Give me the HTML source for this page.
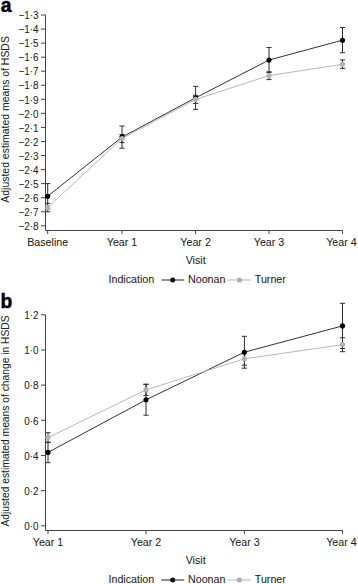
<!DOCTYPE html>
<html><head><meta charset="utf-8"><style>
html,body{margin:0;padding:0;background:#fff;}
body{width:358px;height:584px;overflow:hidden;}
svg{display:block;font-family:"Liberation Sans",sans-serif;fill:#222;}
text{stroke:#222;stroke-width:0.05px;}
</style></head><body>
<svg width="358" height="584" viewBox="0 0 358 584">
<rect width="358" height="584" fill="#fff"/>
<text x="0.7" y="11.7" font-size="19.3" font-weight="bold" style="fill:#000;stroke:#000;stroke-width:0.45px">a</text>
<path d="M45.5 15V230.5H342.5" fill="none" stroke="#444" stroke-width="1"/>
<line x1="41" y1="15" x2="45.5" y2="15" stroke="#444" stroke-width="1"/>
<text font-size="10.7" text-anchor="end" transform="translate(38.5 19.2) scale(0.925 1)">−1·3</text>
<line x1="41" y1="29.05" x2="45.5" y2="29.05" stroke="#444" stroke-width="1"/>
<text font-size="10.7" text-anchor="end" transform="translate(38.5 33.25) scale(0.925 1)">−1·4</text>
<line x1="41" y1="43.11" x2="45.5" y2="43.11" stroke="#444" stroke-width="1"/>
<text font-size="10.7" text-anchor="end" transform="translate(38.5 47.31) scale(0.925 1)">−1·5</text>
<line x1="41" y1="57.16" x2="45.5" y2="57.16" stroke="#444" stroke-width="1"/>
<text font-size="10.7" text-anchor="end" transform="translate(38.5 61.36) scale(0.925 1)">−1·6</text>
<line x1="41" y1="71.21" x2="45.5" y2="71.21" stroke="#444" stroke-width="1"/>
<text font-size="10.7" text-anchor="end" transform="translate(38.5 75.41) scale(0.925 1)">−1·7</text>
<line x1="41" y1="85.27" x2="45.5" y2="85.27" stroke="#444" stroke-width="1"/>
<text font-size="10.7" text-anchor="end" transform="translate(38.5 89.47) scale(0.925 1)">−1·8</text>
<line x1="41" y1="99.32" x2="45.5" y2="99.32" stroke="#444" stroke-width="1"/>
<text font-size="10.7" text-anchor="end" transform="translate(38.5 103.52) scale(0.925 1)">−1·9</text>
<line x1="41" y1="113.37" x2="45.5" y2="113.37" stroke="#444" stroke-width="1"/>
<text font-size="10.7" text-anchor="end" transform="translate(38.5 117.57) scale(0.925 1)">−2·0</text>
<line x1="41" y1="127.42" x2="45.5" y2="127.42" stroke="#444" stroke-width="1"/>
<text font-size="10.7" text-anchor="end" transform="translate(38.5 131.62) scale(0.925 1)">−2·1</text>
<line x1="41" y1="141.48" x2="45.5" y2="141.48" stroke="#444" stroke-width="1"/>
<text font-size="10.7" text-anchor="end" transform="translate(38.5 145.68) scale(0.925 1)">−2·2</text>
<line x1="41" y1="155.53" x2="45.5" y2="155.53" stroke="#444" stroke-width="1"/>
<text font-size="10.7" text-anchor="end" transform="translate(38.5 159.73) scale(0.925 1)">−2·3</text>
<line x1="41" y1="169.58" x2="45.5" y2="169.58" stroke="#444" stroke-width="1"/>
<text font-size="10.7" text-anchor="end" transform="translate(38.5 173.78) scale(0.925 1)">−2·4</text>
<line x1="41" y1="183.64" x2="45.5" y2="183.64" stroke="#444" stroke-width="1"/>
<text font-size="10.7" text-anchor="end" transform="translate(38.5 187.84) scale(0.925 1)">−2·5</text>
<line x1="41" y1="197.69" x2="45.5" y2="197.69" stroke="#444" stroke-width="1"/>
<text font-size="10.7" text-anchor="end" transform="translate(38.5 201.89) scale(0.925 1)">−2·6</text>
<line x1="41" y1="211.74" x2="45.5" y2="211.74" stroke="#444" stroke-width="1"/>
<text font-size="10.7" text-anchor="end" transform="translate(38.5 215.94) scale(0.925 1)">−2·7</text>
<line x1="41" y1="225.8" x2="45.5" y2="225.8" stroke="#444" stroke-width="1"/>
<text font-size="10.7" text-anchor="end" transform="translate(38.5 230) scale(0.925 1)">−2·8</text>
<line x1="47.7" y1="230.5" x2="47.7" y2="234" stroke="#444" stroke-width="1"/>
<text x="47.7" y="245.8" font-size="10.7" text-anchor="middle" >Baseline</text>
<line x1="122" y1="230.5" x2="122" y2="234" stroke="#444" stroke-width="1"/>
<text x="122" y="245.8" font-size="10.7" text-anchor="middle" >Year 1</text>
<line x1="195.6" y1="230.5" x2="195.6" y2="234" stroke="#444" stroke-width="1"/>
<text x="195.6" y="245.8" font-size="10.7" text-anchor="middle" >Year 2</text>
<line x1="269" y1="230.5" x2="269" y2="234" stroke="#444" stroke-width="1"/>
<text x="269" y="245.8" font-size="10.7" text-anchor="middle" >Year 3</text>
<line x1="342.5" y1="230.5" x2="342.5" y2="234" stroke="#444" stroke-width="1"/>
<text x="341.4" y="245.8" font-size="10.7" text-anchor="middle" >Year 4</text>
<text x="195.7" y="264" font-size="10.7" text-anchor="middle" >Visit</text>
<text x="0" y="0" font-size="10.45" text-anchor="middle" transform="translate(8.9 119.4) rotate(-90)">Adjusted estimated means of HSDS</text>
<polyline points="47.7,196.2 122,137.1 195.6,97.8 269,60 342.5,40.2" fill="none" stroke="#333" stroke-width="1"/>
<polyline points="47.7,207.5 122,138.5 195.6,99.4 269,75.6 342.5,64.3" fill="none" stroke="#b8b8b8" stroke-width="1"/>
<line x1="47.7" y1="183.6" x2="47.7" y2="208.8" stroke="#2a2a2a" stroke-width="1"/>
<line x1="45.1" y1="183.6" x2="50.3" y2="183.6" stroke="#333" stroke-width="1"/>
<line x1="45.1" y1="208.8" x2="50.3" y2="208.8" stroke="#333" stroke-width="1"/>
<line x1="122" y1="126" x2="122" y2="148.2" stroke="#2a2a2a" stroke-width="1"/>
<line x1="119.4" y1="126" x2="124.6" y2="126" stroke="#333" stroke-width="1"/>
<line x1="119.4" y1="148.2" x2="124.6" y2="148.2" stroke="#333" stroke-width="1"/>
<line x1="195.6" y1="86.3" x2="195.6" y2="109.4" stroke="#2a2a2a" stroke-width="1"/>
<line x1="193" y1="86.3" x2="198.2" y2="86.3" stroke="#333" stroke-width="1"/>
<line x1="193" y1="109.4" x2="198.2" y2="109.4" stroke="#333" stroke-width="1"/>
<line x1="269" y1="47.5" x2="269" y2="72.4" stroke="#2a2a2a" stroke-width="1"/>
<line x1="266.4" y1="47.5" x2="271.6" y2="47.5" stroke="#333" stroke-width="1"/>
<line x1="266.4" y1="72.4" x2="271.6" y2="72.4" stroke="#333" stroke-width="1"/>
<line x1="342.5" y1="27.5" x2="342.5" y2="52.7" stroke="#2a2a2a" stroke-width="1"/>
<line x1="339.9" y1="27.5" x2="345.1" y2="27.5" stroke="#333" stroke-width="1"/>
<line x1="339.9" y1="52.7" x2="345.1" y2="52.7" stroke="#333" stroke-width="1"/>
<line x1="47.7" y1="203.3" x2="47.7" y2="211.8" stroke="#2a2a2a" stroke-width="1"/>
<line x1="45.1" y1="203.3" x2="50.3" y2="203.3" stroke="#333" stroke-width="1"/>
<line x1="45.1" y1="211.8" x2="50.3" y2="211.8" stroke="#333" stroke-width="1"/>
<line x1="122" y1="134.5" x2="122" y2="142.6" stroke="#2a2a2a" stroke-width="1"/>
<line x1="119.4" y1="134.5" x2="124.6" y2="134.5" stroke="#333" stroke-width="1"/>
<line x1="119.4" y1="142.6" x2="124.6" y2="142.6" stroke="#333" stroke-width="1"/>
<line x1="195.6" y1="95.3" x2="195.6" y2="103.5" stroke="#2a2a2a" stroke-width="1"/>
<line x1="193" y1="95.3" x2="198.2" y2="95.3" stroke="#333" stroke-width="1"/>
<line x1="193" y1="103.5" x2="198.2" y2="103.5" stroke="#333" stroke-width="1"/>
<line x1="269" y1="71.8" x2="269" y2="79.6" stroke="#2a2a2a" stroke-width="1"/>
<line x1="266.4" y1="71.8" x2="271.6" y2="71.8" stroke="#333" stroke-width="1"/>
<line x1="266.4" y1="79.6" x2="271.6" y2="79.6" stroke="#333" stroke-width="1"/>
<line x1="342.5" y1="59.9" x2="342.5" y2="68.4" stroke="#2a2a2a" stroke-width="1"/>
<line x1="339.9" y1="59.9" x2="345.1" y2="59.9" stroke="#333" stroke-width="1"/>
<line x1="339.9" y1="68.4" x2="345.1" y2="68.4" stroke="#333" stroke-width="1"/>
<circle cx="47.7" cy="196.2" r="2.55" fill="#000"/>
<circle cx="122" cy="137.1" r="2.55" fill="#000"/>
<circle cx="195.6" cy="97.8" r="2.55" fill="#000"/>
<circle cx="269" cy="60" r="2.55" fill="#000"/>
<circle cx="342.5" cy="40.2" r="2.55" fill="#000"/>
<circle cx="47.7" cy="207.5" r="2.6" fill="#b2b2b2"/>
<circle cx="122" cy="138.5" r="2.6" fill="#b2b2b2"/>
<circle cx="195.6" cy="99.4" r="2.6" fill="#b2b2b2"/>
<circle cx="269" cy="75.6" r="2.6" fill="#b2b2b2"/>
<circle cx="342.5" cy="64.3" r="2.6" fill="#b2b2b2"/>
<text x="108.5" y="283.3" font-size="10.7" text-anchor="start" >Indication</text>
<line x1="161.4" y1="280" x2="184.2" y2="280" stroke="#333" stroke-width="1.1"/>
<circle cx="172.7" cy="280" r="2.5" fill="#111"/>
<text x="188" y="283.3" font-size="10.7" text-anchor="start" >Noonan</text>
<line x1="228.1" y1="280" x2="250.8" y2="280" stroke="#bbb" stroke-width="1.1"/>
<circle cx="239.4" cy="280" r="2.6" fill="#b0b0b0"/>
<text x="254.8" y="283.3" font-size="10.7" text-anchor="start" >Turner</text>
<text x="0.6" y="308.3" font-size="19.3" font-weight="bold" style="fill:#000;stroke:#000;stroke-width:0.45px">b</text>
<path d="M45.5 314.8V530.5H342.5" fill="none" stroke="#444" stroke-width="1"/>
<line x1="41" y1="314.8" x2="45.5" y2="314.8" stroke="#444" stroke-width="1"/>
<text font-size="10.7" text-anchor="end" transform="translate(38.5 319) scale(0.925 1)">1·2</text>
<line x1="41" y1="349.97" x2="45.5" y2="349.97" stroke="#444" stroke-width="1"/>
<text font-size="10.7" text-anchor="end" transform="translate(38.5 354.17) scale(0.925 1)">1·0</text>
<line x1="41" y1="385.14" x2="45.5" y2="385.14" stroke="#444" stroke-width="1"/>
<text font-size="10.7" text-anchor="end" transform="translate(38.5 389.34) scale(0.925 1)">0·8</text>
<line x1="41" y1="420.31" x2="45.5" y2="420.31" stroke="#444" stroke-width="1"/>
<text font-size="10.7" text-anchor="end" transform="translate(38.5 424.51) scale(0.925 1)">0·6</text>
<line x1="41" y1="455.48" x2="45.5" y2="455.48" stroke="#444" stroke-width="1"/>
<text font-size="10.7" text-anchor="end" transform="translate(38.5 459.68) scale(0.925 1)">0·4</text>
<line x1="41" y1="490.65" x2="45.5" y2="490.65" stroke="#444" stroke-width="1"/>
<text font-size="10.7" text-anchor="end" transform="translate(38.5 494.85) scale(0.925 1)">0·2</text>
<line x1="41" y1="525.82" x2="45.5" y2="525.82" stroke="#444" stroke-width="1"/>
<text font-size="10.7" text-anchor="end" transform="translate(38.5 530.02) scale(0.925 1)">0·0</text>
<line x1="48" y1="530.5" x2="48" y2="534" stroke="#444" stroke-width="1"/>
<text x="48" y="545.8" font-size="10.7" text-anchor="middle" >Year 1</text>
<line x1="146" y1="530.5" x2="146" y2="534" stroke="#444" stroke-width="1"/>
<text x="146" y="545.8" font-size="10.7" text-anchor="middle" >Year 2</text>
<line x1="244.4" y1="530.5" x2="244.4" y2="534" stroke="#444" stroke-width="1"/>
<text x="244.4" y="545.8" font-size="10.7" text-anchor="middle" >Year 3</text>
<line x1="342.5" y1="530.5" x2="342.5" y2="534" stroke="#444" stroke-width="1"/>
<text x="341.4" y="545.8" font-size="10.7" text-anchor="middle" >Year 4</text>
<text x="195.7" y="564" font-size="10.7" text-anchor="middle" >Visit</text>
<text x="0" y="0" font-size="10.28" text-anchor="middle" transform="translate(8.9 421) rotate(-90)">Adjusted estimated means of change in HSDS</text>
<polyline points="48,452.4 146,399.8 244.4,352.2 342.5,325.9" fill="none" stroke="#333" stroke-width="1"/>
<polyline points="48,437.6 146,389.9 244.4,358.8 342.5,344.7" fill="none" stroke="#b8b8b8" stroke-width="1"/>
<line x1="48" y1="442.1" x2="48" y2="462.7" stroke="#2a2a2a" stroke-width="1"/>
<line x1="45.4" y1="442.1" x2="50.6" y2="442.1" stroke="#333" stroke-width="1"/>
<line x1="45.4" y1="462.7" x2="50.6" y2="462.7" stroke="#333" stroke-width="1"/>
<line x1="146" y1="384.4" x2="146" y2="415.2" stroke="#2a2a2a" stroke-width="1"/>
<line x1="143.4" y1="384.4" x2="148.6" y2="384.4" stroke="#333" stroke-width="1"/>
<line x1="143.4" y1="415.2" x2="148.6" y2="415.2" stroke="#333" stroke-width="1"/>
<line x1="244.4" y1="336.3" x2="244.4" y2="368.2" stroke="#2a2a2a" stroke-width="1"/>
<line x1="241.8" y1="336.3" x2="247" y2="336.3" stroke="#333" stroke-width="1"/>
<line x1="241.8" y1="368.2" x2="247" y2="368.2" stroke="#333" stroke-width="1"/>
<line x1="342.5" y1="303.3" x2="342.5" y2="348.5" stroke="#2a2a2a" stroke-width="1"/>
<line x1="339.9" y1="303.3" x2="345.1" y2="303.3" stroke="#333" stroke-width="1"/>
<line x1="339.9" y1="348.5" x2="345.1" y2="348.5" stroke="#333" stroke-width="1"/>
<line x1="48" y1="432.7" x2="48" y2="442.6" stroke="#2a2a2a" stroke-width="1"/>
<line x1="45.4" y1="432.7" x2="50.6" y2="432.7" stroke="#333" stroke-width="1"/>
<line x1="45.4" y1="442.6" x2="50.6" y2="442.6" stroke="#333" stroke-width="1"/>
<line x1="146" y1="384.2" x2="146" y2="395.5" stroke="#2a2a2a" stroke-width="1"/>
<line x1="143.4" y1="384.2" x2="148.6" y2="384.2" stroke="#333" stroke-width="1"/>
<line x1="143.4" y1="395.5" x2="148.6" y2="395.5" stroke="#333" stroke-width="1"/>
<line x1="244.4" y1="352.4" x2="244.4" y2="365.2" stroke="#2a2a2a" stroke-width="1"/>
<line x1="241.8" y1="352.4" x2="247" y2="352.4" stroke="#333" stroke-width="1"/>
<line x1="241.8" y1="365.2" x2="247" y2="365.2" stroke="#333" stroke-width="1"/>
<line x1="342.5" y1="337.7" x2="342.5" y2="351.7" stroke="#2a2a2a" stroke-width="1"/>
<line x1="339.9" y1="337.7" x2="345.1" y2="337.7" stroke="#333" stroke-width="1"/>
<line x1="339.9" y1="351.7" x2="345.1" y2="351.7" stroke="#333" stroke-width="1"/>
<circle cx="48" cy="452.4" r="2.55" fill="#000"/>
<circle cx="146" cy="399.8" r="2.55" fill="#000"/>
<circle cx="244.4" cy="352.2" r="2.55" fill="#000"/>
<circle cx="342.5" cy="325.9" r="2.55" fill="#000"/>
<circle cx="48" cy="437.6" r="2.6" fill="#b2b2b2"/>
<circle cx="146" cy="389.9" r="2.6" fill="#b2b2b2"/>
<circle cx="244.4" cy="358.8" r="2.6" fill="#b2b2b2"/>
<circle cx="342.5" cy="344.7" r="2.6" fill="#b2b2b2"/>
<text x="108.5" y="583.3" font-size="10.7" text-anchor="start" >Indication</text>
<line x1="161.4" y1="580" x2="184.2" y2="580" stroke="#333" stroke-width="1.1"/>
<circle cx="172.7" cy="580" r="2.5" fill="#111"/>
<text x="188" y="583.3" font-size="10.7" text-anchor="start" >Noonan</text>
<line x1="228.1" y1="580" x2="250.8" y2="580" stroke="#bbb" stroke-width="1.1"/>
<circle cx="239.4" cy="580" r="2.6" fill="#b0b0b0"/>
<text x="254.8" y="583.3" font-size="10.7" text-anchor="start" >Turner</text>
</svg>
</body></html>
